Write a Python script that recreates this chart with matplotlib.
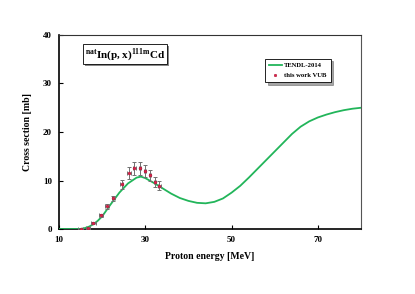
import matplotlib
matplotlib.use('Agg')
from matplotlib import pyplot as plt
from matplotlib.patches import Rectangle

plt.rcParams['font.family'] = ['Liberation Serif', 'DejaVu Serif']
plt.rcParams['font.weight'] = 'bold'
plt.rcParams['mathtext.fontset'] = 'custom'
plt.rcParams['mathtext.rm'] = 'Liberation Serif:bold'
plt.rcParams['mathtext.bf'] = 'Liberation Serif:bold'

# TENDL-2014 curve
tendl_e = [10, 15, 16, 17, 18, 19, 20, 22, 24, 26, 28, 29, 30, 32, 34, 36, 38, 40,
           42, 44, 46, 48, 50, 52, 54, 56, 58, 60, 62, 64, 66, 68, 70, 72, 74, 76, 78, 80]
tendl_xs = [0, 0, 0.2, 0.5, 1.0, 1.7, 2.6, 5.1, 7.5, 9.4, 10.6, 10.8, 10.5, 9.5, 8.4, 7.3,
            6.4, 5.8, 5.4, 5.3, 5.6, 6.3, 7.5, 8.9, 10.6, 12.4, 14.2, 16.0, 17.8, 19.6,
            21.1, 22.2, 23.0, 23.6, 24.1, 24.5, 24.8, 25.0]

# this work VUB
exp_e = [15.0, 16.8, 18.0, 19.7, 21.1, 22.6, 24.5, 26.2, 27.5, 28.8, 29.9, 31.1, 32.3, 33.25]
exp_xs = [0.0, 0.15, 1.2, 2.8, 4.7, 6.3, 9.2, 11.5, 12.5, 12.5, 12.0, 11.1, 9.75, 8.9]
exp_dxs = [0.1, 0.1, 0.2, 0.3, 0.5, 0.6, 0.9, 1.2, 1.3, 1.3, 1.2, 1.1, 1.0, 0.9]
exp_de = [0.5, 0.5, 0.5, 0.5, 0.4, 0.4, 0.4, 0.4, 0.4, 0.3, 0.3, 0.3, 0.3, 0.3]

fig = plt.figure(figsize=(4.15, 2.94), dpi=100)
ax = fig.add_axes([0.142, 0.221, 0.728, 0.660])

ax.plot(tendl_e, tendl_xs, color='#22b55a', lw=1.3, label='TENDL-2014', zorder=3)
ax.errorbar(exp_e, exp_xs, yerr=exp_dxs, xerr=exp_de, fmt='none', ecolor='#707070',
            elinewidth=0.7, capsize=1.5, capthick=0.7, zorder=4)
ax.plot(exp_e, exp_xs, 'o', color='#e0204a', ms=2.0, mec='#b01838', mew=0.4, lw=0,
        label='this work VUB', zorder=5)

ax.set_xlim(10, 80)
ax.set_ylim(0, 40)
ax.set_xticks([10, 30, 50, 70])
ax.set_yticks([0, 10, 20, 30, 40])
ax.tick_params(direction='in', length=3, width=0.8, labelsize=6.5, pad=5)
for lbl in ax.get_xticklabels() + ax.get_yticklabels():
    lbl.set_fontweight('bold')
ax.set_xlabel('Proton energy [MeV]', fontsize=7, fontweight='bold', labelpad=6)
ax.set_ylabel('Cross section [mb]', fontsize=7, fontweight='bold', labelpad=8)

ax.spines['left'].set_linewidth(1.2)
ax.spines['bottom'].set_linewidth(1.2)
ax.spines['top'].set_linewidth(0.8)
ax.spines['right'].set_linewidth(0.8)
ax.spines['top'].set_color('#333333')
ax.spines['right'].set_color('#555555')

leg = ax.legend(loc='upper right', bbox_to_anchor=(0.91, 0.895), fontsize=4.8,
                frameon=True, fancybox=False, shadow=True, edgecolor='black',
                handlelength=2.0, borderpad=0.6, labelspacing=0.6, handletextpad=0.3,
                markerscale=0.9)
leg.get_frame().set_linewidth(0.6)
for t in leg.get_texts():
    t.set_fontweight('bold')

# reaction label in a box with drop shadow
title = r'$^{\mathrm{nat}}\mathrm{In(p,x)}^{\mathrm{111m}}\mathrm{Cd}$'
txt = ax.text(0.085, 0.9, title, transform=ax.transAxes, fontsize=8,
              va='center', ha='left',
              bbox=dict(boxstyle='square,pad=0.15', fc='white', ec='black', lw=0.6), zorder=7)
fig.canvas.draw()
bb = txt.get_bbox_patch().get_window_extent()
shadow = Rectangle((bb.x0 + 2, bb.y0 - 2), bb.width, bb.height,
                   transform=None, fc='#888888', ec='none', zorder=6)
ax.add_artist(shadow)

fig.savefig('out.png', dpi=100)
